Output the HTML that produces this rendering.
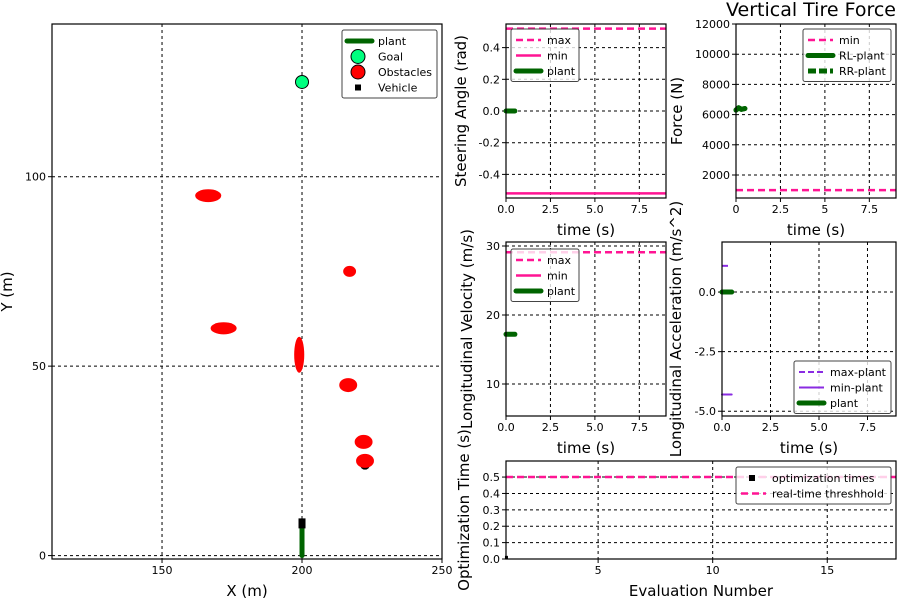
<!DOCTYPE html>
<html><head><meta charset="utf-8"><style>
body{margin:0;background:#fff;width:900px;height:600px;overflow:hidden}
svg{font-family:"DejaVu Sans","Liberation Sans",sans-serif}
</style></head><body>
<svg id="fig" width="900" height="600" viewBox="0 0 900 600" xmlns="http://www.w3.org/2000/svg">
<rect width="900" height="600" fill="#fff"/>
</svg>
<script>
// ---- data ----
const obsX=[166.5,172,199,217,216.5,222,222.5];
const obsY=[95,60,53,75,45,30,25];
const obsW=[9.3,9.3,3.6,4.6,6.4,6.4,6.4];
const obsH=[3.4,3.2,9.5,2.9,3.7,3.7,3.7];
const goalX=[200], goalY=[125];
const vehX=[200], vehY=[8.5];
const pathX=[200,200], pathY=[0,8];
const steerT=[0,0.5], steerV=[0,0], steerMax=[0.52], steerMin=[-0.52];
const forceT=[0,0.15,0.3,0.5], forceV=[6300,6450,6350,6400], forceMin=[1000];
const velT=[0,0.5], velV=[17.2,17.2], velMax=[29.1];
const accT=[0,0.5], accV=[0,0], accMaxT=[0,0.4], accMax=[1.1], accMinT=[0,0.5], accMin=[-4.3];
const evalN=[1], optTimes=[0.01], rtThresh=[0.5];
const mainXTicks=[150,200,250], mainYTicks=[0,50,100];
const tTicks=[0,2.5,5,7.5];
const steerTicks=[-0.4,-0.2,0,0.2,0.4], forceTicks=[2000,4000,6000,8000,10000,12000];
const velTicks=[10,20,30], accTicks=[-5,-2.5,0], optYTicks=[0,0.1,0.2,0.3,0.4,0.5], optXTicks=[5,10,15];

const NS="http://www.w3.org/2000/svg", fig=document.getElementById('fig');
function el(t,a,p){const e=document.createElementNS(NS,t);for(const k in a)e.setAttribute(k,a[k]);(p||fig).appendChild(e);return e;}
function txt(s,a,p){const e=el('text',a,p);e.textContent=s;return e;}

function axes(name,L,T,R,B,x0,x1,y0,y1,xt,yt,xfmt,yfmt,xlab,ylab,ylabX){
  const g=el('g',{});
  
  
  const sx=v=>L+(v-x0)/(x1-x0)*(R-L), sy=v=>B-(v-y0)/(y1-y0)*(B-T);
  xt.forEach(v=>{const x=sx(v);
    const gl=el('line',{x1:x,x2:x,y1:T,y2:B,stroke:'#000','stroke-width':1,'stroke-dasharray':'3,3'},g);
    
    el('line',{x1:x,x2:x,y1:B,y2:B+4,stroke:'#000'},g);
    const t=txt(xfmt(v),{x:x,y:B+15,'font-size':11,'text-anchor':'middle',fill:'#000'},g);
    });
  yt.forEach(v=>{const y=sy(v);
    const gl=el('line',{x1:L,x2:R,y1:y,y2:y,stroke:'#000','stroke-width':1,'stroke-dasharray':'3,3'},g);
    
    el('line',{x1:L-4,x2:L,y1:y,y2:y,stroke:'#000'},g);
    const t=txt(yfmt(v),{x:L-6,y:y+4,'font-size':11,'text-anchor':'end',fill:'#000'},g);
    });
  const xl=txt(xlab,{x:(L+R)/2,y:B+37,'font-size':15,'text-anchor':'middle'},g);
  
  const yl=txt(ylab,{x:0,y:0,'font-size':15,'text-anchor':'middle',transform:`translate(${ylabX},${(T+B)/2}) rotate(-90)`},g);
  
  const plot=el('g',{},g);
  const fr=el('rect',{x:L,y:T,width:R-L,height:B-T,fill:'none',stroke:'#000','stroke-width':1.2},g);
  
  return {g,plot,sx,sy,L,R,T,B};
}
function hline(ax,v,color,dash,name,w){const l=el('line',{x1:ax.L,x2:ax.R,y1:ax.sy(v),y2:ax.sy(v),stroke:color,'stroke-width':w||2.5,'stroke-dasharray':dash||''},ax.plot);
  }
function poly(ax,xs,ys,color,w,name,dash,cap){const pts=xs.map((x,i)=>ax.sx(x)+','+ax.sy(ys[i])).join(' ');
  const p=el('polyline',{points:pts,fill:'none',stroke:color,'stroke-width':w,'stroke-linecap':cap||(dash?'butt':'round'),'stroke-linejoin':'round','stroke-dasharray':dash||''},ax.plot);
  }
function legend(ax,x,y,w,items){const lg=el('g',{},ax.g);
  
  el('rect',{x:x,y:y,width:w,height:items.length*15.5+6,rx:2,fill:'#fff','fill-opacity':0.8,stroke:'#444'},lg);
  items.forEach((it,i)=>{const cy=y+11+i*15.5;
    const e=el('g',{},lg);
    if(it.type==='line')el('line',{x1:x+5,x2:x+30,y1:cy,y2:cy,stroke:it.c,'stroke-width':it.w,'stroke-dasharray':it.d||'','stroke-linecap':it.cap||'butt'},e);
    if(it.type==='circle')el('circle',{cx:x+16,cy:cy,r:7,fill:it.c,stroke:'#000'},e);
    if(it.type==='sq')el('rect',{x:x+13,y:cy-3,width:6,height:6,fill:'#000'},e);
    txt(it.t,{x:x+it.tx,y:cy+4,'font-size':11},e);});}

const pink='#ff1493', green='#006400', purple='#8a2be2';
const f1=v=>v.toFixed(1), f0=v=>String(v);

// main map
const m=axes('map-axes',52,24,442,559,110.7,250,-0.9,140.3,mainXTicks,mainYTicks,f0,f0,'X (m)','Y (m)',12);
const sh=el('circle',{cx:m.sx(222.5),cy:m.sy(24),r:5,fill:'#000'},m.plot);


obsX.forEach((x,i)=>{const e=el('ellipse',{cx:m.sx(x),cy:m.sy(obsY[i]),rx:obsW[i]/2*2.8,ry:obsH[i]/2*3.79,fill:'#ff0000'},m.plot);
  });
poly(m,pathX,pathY,green,5,'plant-path');
goalX.forEach((x,i)=>{const c=el('circle',{cx:m.sx(x),cy:m.sy(goalY[i]),r:6.5,fill:'#00ff7f',stroke:'#000'},m.plot);
  });
vehX.forEach((x,i)=>{const r=el('rect',{x:m.sx(x)-3.5,y:m.sy(vehY[i])-5,width:7,height:10,fill:'#000'},m.plot);
  });
legend(m,342,30,95,[{type:'line',c:green,w:5,t:'plant',tx:36,cap:'round'},{type:'circle',c:'#00ff7f',t:'Goal',tx:36},{type:'circle',c:'#ff0000',t:'Obstacles',tx:36},{type:'sq',t:'Vehicle',tx:36}]);

// steering
const s=axes('steering-axes',506,24,666,198,0,9.0,-0.549,0.549,tTicks,steerTicks,f1,f1,'time (s)','Steering Angle (rad)',466);
hline(s,steerMax[0],pink,'7,4','steer-max-line');hline(s,steerMin[0],pink,'','steer-min-line');
poly(s,steerT,steerV,green,5,'steer-plant-line');
legend(s,511,29,68,[{type:'line',c:pink,w:2.5,d:'7,4',t:'max',tx:36},{type:'line',c:pink,w:2.5,t:'min',tx:36},{type:'line',c:green,w:5,t:'plant',tx:36,cap:'round'}]);

// force
const f=axes('force-axes',736,24,896,198,0,9.0,477,12000,tTicks,forceTicks,f0,f0,'time (s)','Force (N)',682);
hline(f,forceMin[0],pink,'7,4','force-min-line');
poly(f,forceT,forceV,green,5,'rl-plant-line');
poly(f,forceT,forceV,green,5,'rr-plant-line','',"round");
legend(f,803,29,88,[{type:'line',c:pink,w:2.5,d:'7,4',t:'min',tx:36},{type:'line',c:green,w:5,t:'RL-plant',tx:36,cap:'round'},{type:'line',c:green,w:5,d:'8,3',t:'RR-plant',tx:36}]);
const tt=txt('Vertical Tire Force',{x:811,y:16,'font-size':19,'text-anchor':'middle'});


// velocity
const v=axes('velocity-axes',506,242,666,416,0,9.0,5.36,30.58,tTicks,velTicks,f1,f0,'time (s)','Longitudinal Velocity (m/s)',472);
hline(v,velMax[0],pink,'7,4','vel-max-line');
poly(v,velT,velV,green,5,'vel-plant-line');
legend(v,511,249,68,[{type:'line',c:pink,w:2.5,d:'7,4',t:'max',tx:36},{type:'line',c:pink,w:2.5,t:'min',tx:36},{type:'line',c:green,w:5,t:'plant',tx:36,cap:'round'}]);

// acceleration
const a=axes('accel-axes',722,242,896,416,0,8.97,-5.2,2.1,tTicks,accTicks,f1,f1,'time (s)','Longitudinal Acceleration (m/s^2)',681);
poly(a,accMaxT,[accMax[0],accMax[0]],purple,2,'accel-max-line','6,3');
poly(a,accMinT,[accMin[0],accMin[0]],purple,2,'accel-min-line');
poly(a,accT,accV,green,5,'accel-plant-line');
legend(a,794,361,97,[{type:'line',c:purple,w:2,d:'6,3',t:'max-plant',tx:36},{type:'line',c:purple,w:2,t:'min-plant',tx:36},{type:'line',c:green,w:5,t:'plant',tx:36,cap:'round'}]);

// optimization
const o=axes('opt-time-axes',506,461,896,559,0.98,18,0,0.598,optXTicks,optYTicks,f0,f1,'Evaluation Number','Optimization Time (s)',469);
hline(o,rtThresh[0],pink,'7,4','realtime-threshold-line');
evalN.forEach((n,i)=>{const r=el('rect',{x:o.sx(n)-1.5,y:o.sy(optTimes[i])-1.5,width:3,height:3,fill:'#000'},o.plot);
  });
legend(o,736,467,155,[{type:'sq',t:'optimization times',tx:36},{type:'line',c:pink,w:2.5,d:'7,4',t:'real-time threshhold',tx:36}]);
</script>
</body></html>
